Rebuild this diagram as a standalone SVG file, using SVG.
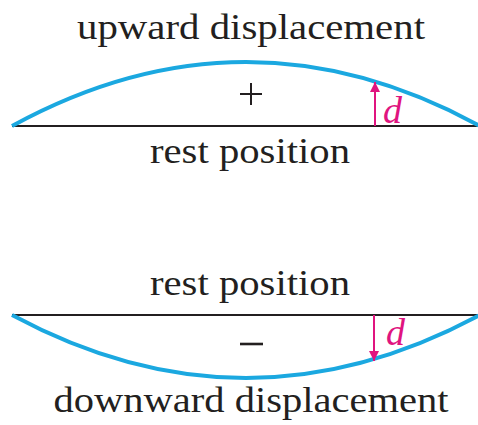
<svg xmlns="http://www.w3.org/2000/svg" width="478" height="425" viewBox="0 0 478 425">
<style>
.lbl{font-family:"Liberation Serif","Times New Roman",serif;font-size:36px;fill:#231f20;text-anchor:middle}
.d{font-family:"Liberation Serif","Times New Roman",serif;font-size:38px;font-style:italic;fill:#e0147f}
.rest{stroke:#231f20;stroke-width:1.8;fill:none}
.arc{stroke:#1ba8e0;stroke-width:4;fill:none}
.arr{stroke:#e0147f;stroke-width:2;fill:none}
.sign{stroke:#231f20;fill:none}
</style>
<defs>
<marker id="ah" viewBox="0 0 10 10" refX="10" refY="5" markerWidth="10" markerHeight="12" markerUnits="userSpaceOnUse" orient="auto">
<path d="M0,0 L10,5 L0,10 Z" fill="#e0147f"/>
</marker>
</defs>
<g id="upward">
<text class="lbl" x="251" y="39" textLength="348" lengthAdjust="spacingAndGlyphs">upward displacement</text>
<line class="rest" x1="12" y1="126" x2="478" y2="126"/>
<path class="arc" d="M12,126 Q246,-2 480,126"/>
<line class="sign" x1="240" y1="94" x2="262" y2="94" stroke-width="2"/>
<line class="sign" x1="251" y1="83" x2="251" y2="105" stroke-width="2"/>
<text class="d" x="383" y="123">d</text>
<text class="lbl" x="250" y="163" textLength="200" lengthAdjust="spacingAndGlyphs">rest position</text>
</g>
<g id="downward">
<text class="lbl" x="250" y="295" textLength="200" lengthAdjust="spacingAndGlyphs">rest position</text>
<line class="rest" x1="12" y1="315" x2="478" y2="315"/>
<path class="arc" d="M12,315 Q246,441 480,315"/>
<line class="sign" x1="240" y1="344" x2="263" y2="344" stroke-width="2.6"/>
<text class="d" x="386" y="345">d</text>
<text class="lbl" x="251" y="412" textLength="395" lengthAdjust="spacingAndGlyphs">downward displacement</text>
</g>
<g id="connectors">
<line class="arr" x1="375" y1="126" x2="375" y2="82" marker-end="url(#ah)"/>
<line class="arr" x1="374" y1="315" x2="374" y2="361" marker-end="url(#ah)"/>
</g>
</svg>
